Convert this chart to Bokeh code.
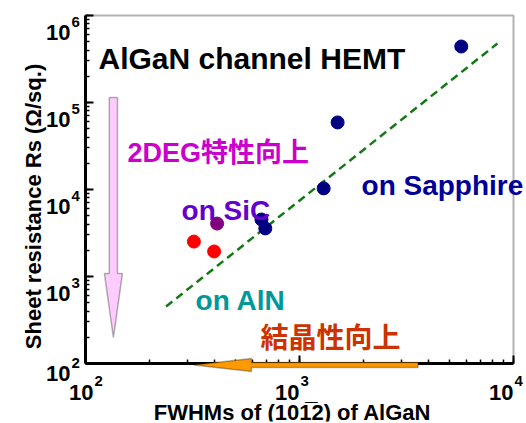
import numpy as np
from bokeh.plotting import figure
from bokeh.models import Label, PolyAnnotation, BoxAnnotation
from bokeh.embed import file_html
from bokeh.resources import INLINE

# ---- data ----
sapphire_x = [5700, 1507, 1297, 664, 692]
sapphire_y = [4.4e5, 5.9e4, 1.03e4, 4520, 3570]
sic_x = [412]
sic_y = [4060]
aln_x = [321, 399]
aln_y = [2520, 1940]
fit_x = [238, 8410]
fit_y = [452, 4.76e5]

x_ticks = [1e2, 1e3, 1e4]
x_tick_exp = ["2", "3", "4"]
y_ticks = [1e2, 1e3, 1e4, 1e5, 1e6]
y_tick_exp = ["2", "3", "4", "5", "6"]

x_bounds = (1e2, 1e4)
y_bounds = (1e2, 1e6)

FONT = "Liberation Sans"
CJK = "Liberation Sans, Noto Sans CJK JP"

# frame covers nearly the whole figure; the visible axes box sits inside it
W, H = 526, 423
B = 2
x_range = (10 ** 1.6121, 10 ** 4.0514)
y_range = (10 ** 1.3333, 10 ** 6.1494)

p = figure(width=W, height=H, x_axis_type="log", y_axis_type="log",
           x_range=x_range, y_range=y_range,
           output_backend="svg", toolbar_location=None,
           min_border_left=B, min_border_right=B, min_border_top=B, min_border_bottom=B)
p.title.visible = False

p.xgrid.visible = False
p.ygrid.visible = False
p.outline_line_color = None
p.background_fill_color = "white"
p.border_fill_color = "white"

for ax in (p.xaxis, p.yaxis):
    ax.axis_line_width = 3
    ax.axis_line_color = "black"
    ax.major_tick_in = 8
    ax.major_tick_out = 0
    ax.minor_tick_in = 4
    ax.minor_tick_out = 0
    ax.major_tick_line_width = 2
    ax.minor_tick_line_width = 1.5
    ax.major_label_text_font_size = "1px"
    ax.major_label_text_alpha = 0
    ax.major_label_standoff = 0
    ax.fixed_location = 100
p.xaxis.bounds = x_bounds
p.yaxis.bounds = y_bounds

# top and right frame edges
p.add_layout(BoxAnnotation(left=x_bounds[0], right=x_bounds[1], bottom=y_bounds[0], top=y_bounds[1],
                           fill_alpha=0, line_color="black", line_width=2))

# fit line
p.line(fit_x, fit_y, line_color="#147814", line_width=2.5, line_dash="8 5")

# points
p.scatter(sapphire_x, sapphire_y, size=13, color="#000080")
p.scatter(sic_x, sic_y, size=13, color="#800080")
p.scatter(aln_x, aln_y, size=13, color="#ff0000")

# pink vertical arrow (2DEG improvement)
px, ptop, pbase, ptip = 135, 1.14e5, 1080, 199
hw, HW = 0.019, 0.042
p.add_layout(PolyAnnotation(
    xs=[px * 10**-hw, px * 10**hw, px * 10**hw, px * 10**HW, px, px * 10**-HW, px * 10**-hw],
    ys=[ptop, ptop, pbase, pbase, ptip, pbase, pbase],
    fill_color="#ffccff", fill_alpha=1.0, line_color="black", line_width=1.5))

# orange horizontal arrow (crystal quality improvement)
oy, otail, obase, otip = 96, 3580, 596, 321
hh, HH = 0.029, 0.075
p.add_layout(PolyAnnotation(
    xs=[otail, obase, obase, otip, obase, obase, otail],
    ys=[oy * 10**hh, oy * 10**hh, oy * 10**HH, oy, oy * 10**-HH, oy * 10**-hh, oy * 10**-hh],
    fill_color="#ff9900", fill_alpha=1.0, line_color="black", line_width=1.5))

def lab(x, y, text, color="black", size="22px", font=FONT, base="alphabetic", align="left",
        xo=0, yo=0, angle=0):
    p.add_layout(Label(x=x, y=y, text=text, text_color=color, text_font_size=size,
                       text_font=font, text_font_style="bold", text_baseline=base,
                       text_align=align, x_offset=xo, y_offset=yo, angle=angle))

# tick labels (10 + superscript exponent)
for i, (t, e) in enumerate(zip(x_ticks, x_tick_exp)):
    dx = 8 if i == 0 else 0
    lab(t, y_bounds[0], "10", size="22px", align="right", xo=dx, yo=-29)
    lab(t, y_bounds[0], e, size="15px", align="left", xo=dx + 1, yo=-18)
for i, (t, e) in enumerate(zip(y_ticks, y_tick_exp)):
    dy = -10 if i == 0 else -17
    lab(x_bounds[0], t, "10", size="22px", align="right", xo=-15, yo=dy)
    lab(x_bounds[0], t, e, size="15px", align="left", xo=-14, yo=dy + 10)

# axis titles
lab(1e3, y_bounds[0], "FWHMs of (101\u03052) of AlGaN", size="22px", align="center", xo=-7, yo=-49)
lab(x_bounds[0], 6376, "Sheet resistance Rs (\u03a9/sq.)", size="22px", align="center",
    xo=-52, yo=0, angle=np.pi / 2)

# annotations
lab(115, 3.2e5, "AlGaN channel HEMT", size="30px")
lab(157, 2.66e4, "2DEG特性向上", color="#cc00cc", size="27px", font=CJK)
lab(1949, 1.11e4, "on Sapphire", color="#000099", size="28px")
lab(281, 5740, "on SiC", color="#6600cc", size="28px")
lab(327, 530, "on AlN", color="#009999", size="28px")
lab(657, 207, "結晶性向上", color="#cc3300", size="28px", font="Noto Sans CJK JP", base="middle")

open("out.html", "w").write(file_html(p, INLINE))
